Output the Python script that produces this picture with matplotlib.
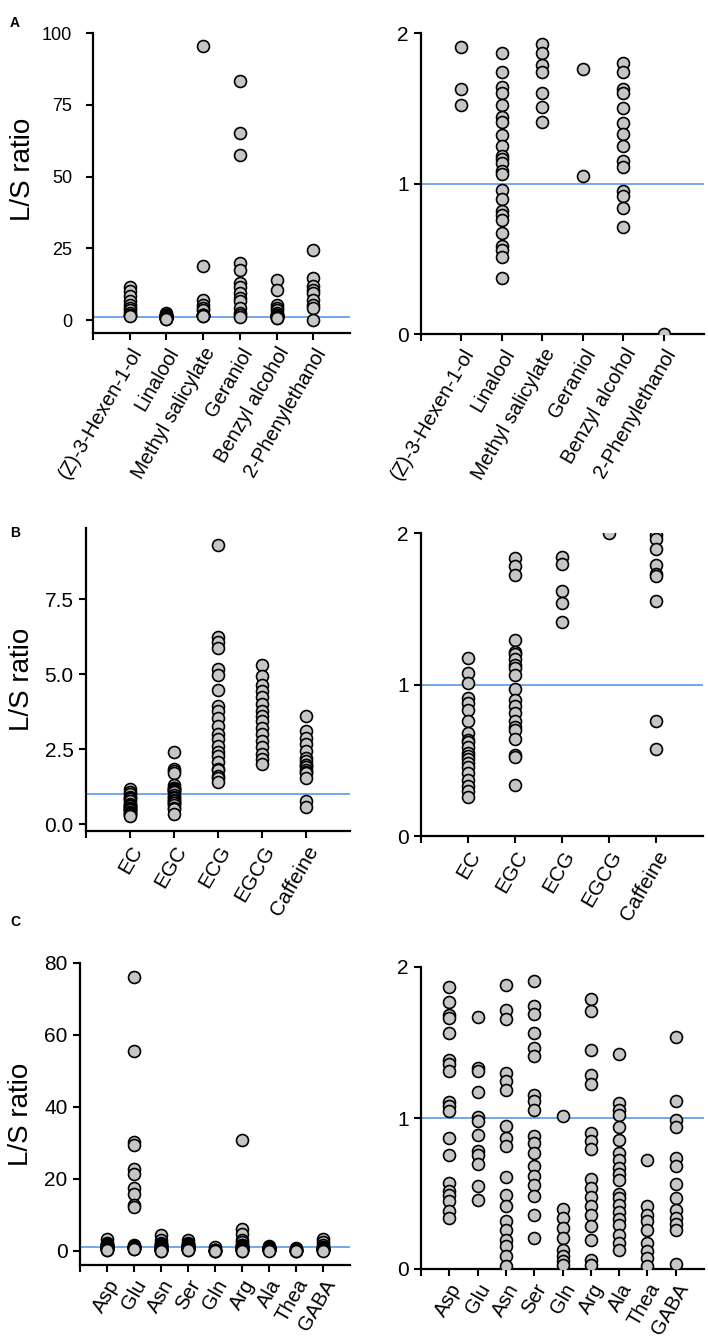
"""
L/S ratio dot plots, aroma / catechins / amino acids, full and zoomed range
"""

import numpy as np
import matplotlib
matplotlib.use("Agg")
import matplotlib.pyplot as plt

plt.rcParams['font.family'] = ['Liberation Sans', 'DejaVu Sans']

# ---- data ----
aroma_names = ["(Z)-3-Hexen-1-ol", "Linalool", "Methyl salicylate",
               "Geraniol", "Benzyl alcohol", "2-Phenylethanol"]
hexenol = [11.5, 10.0, 8.5, 6.5, 5.3, 4.2, 3.6, 2.4, 1.91, 1.63, 1.52]
linalool = [2.4, 1.865, 1.74, 1.64, 1.60, 1.52, 1.445, 1.41, 1.32, 1.25, 1.18,
            1.16, 1.135, 1.08, 1.06, 0.955, 0.896, 0.82, 0.79, 0.76, 0.67,
            0.586, 0.555, 0.51, 0.37]
methyl_sal = [95.6, 19.0, 7.1, 5.3, 4.2, 3.6, 1.925, 1.87, 1.79, 1.74, 1.60,
              1.51, 1.41]
geraniol = [83.3, 65.0, 57.5, 20.0, 17.3, 12.9, 11.5, 9.4, 7.7, 6.5, 4.2, 2.6,
            1.76, 1.05]
benzyl = [14.0, 10.6, 5.3, 4.2, 3.6, 2.4, 1.80, 1.74, 1.63, 1.60, 1.50, 1.40,
          1.33, 1.25, 1.15, 1.11, 0.947, 0.92, 0.84, 0.71]
phenylethanol = [24.5, 14.6, 11.7, 10.6, 9.4, 7.1, 5.3, 4.2, 0.0]
aroma = [hexenol, linalool, methyl_sal, geraniol, benzyl, phenylethanol]

catechin_names = ["EC", "EGC", "ECG", "EGCG", "Caffeine"]
ec = [1.177, 1.073, 1.01, 0.91, 0.88, 0.834, 0.757, 0.68, 0.635, 0.62, 0.59,
      0.546, 0.53, 0.507, 0.48, 0.458, 0.414, 0.37, 0.33, 0.30, 0.259]
egc = [2.41, 1.836, 1.785, 1.72, 1.294, 1.217, 1.2, 1.166, 1.13, 1.11, 1.06,
       0.97, 0.90, 0.856, 0.81, 0.757, 0.72, 0.70, 0.64, 0.535, 0.52, 0.336]
ecg = [9.3, 6.24, 6.08, 5.86, 5.16, 4.98, 4.48, 3.93, 3.77, 3.55, 3.27, 3.0,
       2.83, 2.61, 2.39, 2.28, 2.06, 1.84, 1.796, 1.615, 1.535, 1.414]
egcg = [5.29, 4.94, 4.65, 4.45, 4.23, 3.99, 3.77, 3.6, 3.44, 3.22, 3.0, 2.78,
        2.56, 2.33, 2.17, 2.0]
caffeine = [3.6, 3.1, 2.88, 2.67, 2.44, 2.22, 2.1, 1.985, 1.96, 1.896, 1.79,
            1.73, 1.715, 1.553, 0.757, 0.575]
catechins = [ec, egc, ecg, egcg, caffeine]

amino_names = ["Asp", "Glu", "Asn", "Ser", "Gln", "Arg", "Ala", "Thea", "GABA"]
asp = [3.4, 2.2, 1.868, 1.766, 1.684, 1.662, 1.563, 1.386, 1.36, 1.309, 1.104,
       1.077, 1.044, 0.868, 0.757, 0.57, 0.514, 0.492, 0.448, 0.382, 0.338]
glu = [76.1, 55.5, 30.3, 29.4, 22.9, 21.5, 17.5, 15.9, 12.9, 12.2, 1.667,
       1.331, 1.309, 1.17, 1.007, 0.978, 0.885, 0.779, 0.757, 0.698, 0.547,
       0.455]
asn = [4.35, 3.0, 2.2, 1.883, 1.717, 1.656, 1.298, 1.243, 1.188, 0.945, 0.868,
       0.812, 0.609, 0.492, 0.415, 0.316, 0.26, 0.194, 0.15, 0.084, 0.018]
ser = [3.0, 2.3, 1.905, 1.744, 1.689, 1.563, 1.464, 1.408, 1.155, 1.11, 1.055,
       0.883, 0.834, 0.768, 0.68, 0.614, 0.558, 0.486, 0.36, 0.205]
gln = [1.011, 0.397, 0.338, 0.27, 0.205, 0.128, 0.084, 0.05, 0.029]
arg = [30.9, 6.0, 4.8, 3.1, 2.4, 1.79, 1.706, 1.448, 1.283, 1.225, 0.9, 0.845,
       0.795, 0.596, 0.536, 0.477, 0.415, 0.36, 0.283, 0.194, 0.062, 0.029]
ala = [1.422, 1.099, 1.055, 1.02, 0.938, 0.857, 0.768, 0.72, 0.669, 0.63,
       0.592, 0.499, 0.47, 0.426, 0.375, 0.33, 0.294, 0.227, 0.172, 0.128]
thea = [0.72, 0.419, 0.36, 0.32, 0.26, 0.172, 0.117, 0.073, 0.022]
gaba = [3.3, 2.6, 1.534, 1.11, 0.989, 0.94, 0.735, 0.68, 0.565, 0.47, 0.393,
        0.338, 0.30, 0.26, 0.033]
aminos = [asp, glu, asn, ser, gln, arg, ala, thea, gaba]

# ---- style ----
W, H = 708, 1339
fill = "#c6c6c6"
blue = "#4a8fe8"


def px_axes(fig, x0, x1, ytop, ybot):
    return fig.add_axes([x0 / W, 1 - ybot / H, (x1 - x0) / W, (ybot - ytop) / H])


def dotplot(ax, groups, names, ylim, yticks, yticklabels, yfs=15, ypad=4,
            xfs=14.5, label_xy=None):
    n = len(groups)
    ax.axhline(1, color=blue, lw=1.1, zorder=1)
    for i, vals in enumerate(groups):
        ax.plot(np.full(len(vals), i + 1), vals, 'o', ms=8.6, mfc=fill,
                mec='black', mew=1.2, zorder=3, clip_on=True)
    ax.set_xlim(0, n + 1)
    ax.set_ylim(*ylim)
    ax.set_yticks(yticks)
    ax.set_yticklabels(yticklabels, fontsize=yfs)
    ax.set_xticks(range(0, n + 1))
    ax.set_xticklabels([""] + names, rotation=60, ha='right',
                       rotation_mode='anchor', fontsize=xfs)
    for s in ['top', 'right']:
        ax.spines[s].set_visible(False)
    for s in ['left', 'bottom']:
        ax.spines[s].set_linewidth(1.6)
    ax.tick_params(direction='out', length=5, width=1.5, pad=3)
    ax.tick_params(axis='y', pad=ypad)
    if label_xy is not None:
        ax.set_ylabel("L/S ratio", fontsize=20)
        ax.yaxis.set_label_coords(*label_xy)


fig = plt.figure(figsize=(W / 100, H / 100), dpi=100)

# A
ax = px_axes(fig, 93, 350, 33, 333)
dotplot(ax, aroma, aroma_names, (-4.5, 100), [0, 25, 50, 75, 100],
        ["0", "25", "50", "75", "100"], yfs=13, ypad=10, xfs=14.5,
        label_xy=(-0.22, 0.547))
ax = px_axes(fig, 421, 704, 33, 334)
dotplot(ax, aroma, aroma_names, (0, 2), [0, 1, 2], ["0", "1", "2"], xfs=14.5)

# B
ax = px_axes(fig, 86, 350, 528, 831)
dotplot(ax, catechins, catechin_names, (-0.23, 9.87), [0, 2.5, 5, 7.5],
        ["0.0", "2.5", "5.0", "7.5"], xfs=15, label_xy=(-0.195, 0.5))
ax = px_axes(fig, 421, 703, 533, 836)
dotplot(ax, catechins, catechin_names, (0, 2), [0, 1, 2], ["0", "1", "2"],
        xfs=15)

# C
ax = px_axes(fig, 80, 350, 963, 1265)
dotplot(ax, aminos, amino_names, (-3.9, 80), [0, 20, 40, 60, 80],
        ["0", "20", "40", "60", "80"], xfs=14.5, label_xy=(-0.17, 0.5))
ax = px_axes(fig, 421, 704, 967, 1269)
dotplot(ax, aminos, amino_names, (0, 2), [0, 1, 2], ["0", "1", "2"], xfs=14.5)

for lab, y in [("A", 23), ("B", 533), ("C", 922)]:
    fig.text(10 / W, 1 - y / H, lab, fontsize=10, fontweight='bold',
             va='center', ha='left')

fig.savefig("out.png", dpi=100)
